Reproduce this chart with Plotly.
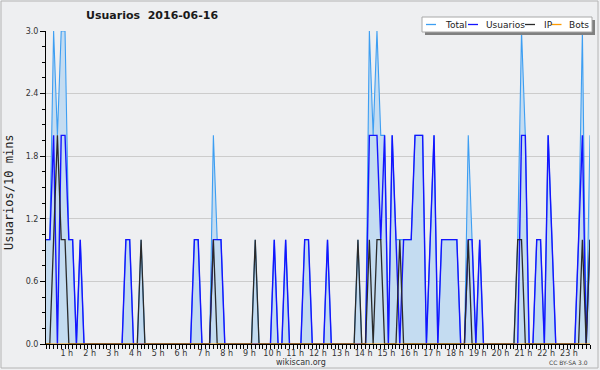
import plotly.graph_objects as go

# ---------------- data (10-minute slots, 144 per day) ----------------
slots = list(range(144))

usuarios = [0] * 144
ip = [0] * 144
bots = [0] * 144

usuarios_vals = {0: 1, 1: 1, 2: 2, 4: 2, 5: 2, 6: 1, 7: 1, 9: 1, 21: 1, 22: 1,
                 39: 1, 40: 1, 44: 1, 45: 1, 46: 1, 60: 1, 63: 1, 68: 1, 69: 1, 74: 1,
                 85: 2, 86: 2, 87: 2, 88: 1, 89: 2, 91: 2, 92: 1, 94: 1, 95: 1, 96: 1,
                 97: 2, 98: 2, 99: 2, 101: 1, 102: 2, 104: 1, 105: 1, 106: 1, 107: 1,
                 108: 1, 111: 1, 112: 1, 114: 1, 125: 2, 126: 2, 129: 1, 130: 1,
                 132: 2, 133: 1, 140: 1, 141: 2, 143: 1}
ip_vals = {2: 1, 3: 2, 4: 1, 5: 1, 25: 1, 44: 1, 55: 1, 82: 1, 85: 1, 87: 1, 88: 1,
           93: 1, 111: 1, 124: 1, 125: 1, 141: 1, 143: 1}
for k, v in usuarios_vals.items():
    usuarios[k] = v
for k, v in ip_vals.items():
    ip[k] = v
total = [u + i + b for u, i, b in zip(usuarios, ip, bots)]

hour_ticks = [6 * h for h in range(1, 24)]
hour_labels = [f"{h} h" for h in range(1, 24)]

title_text = "Usuarios  2016-06-16"
y_title = "Usuarios/10 mins"
series_names = ["Total", "Usuarios", "IP", "Bots"]
series_colors = {"Total": "#3D9EF2", "Usuarios": "#1414FF", "IP": "#2A2A2A", "Bots": "#FF9A00"}
fill_color = "#C4DCF1"

BG = "#EEEFF1"
FONT = "DejaVu Sans"

# ---------------- figure ----------------
fig = go.Figure()
fig.add_trace(go.Scatter(x=slots, y=total, name="Total", mode="lines", fill="tozeroy",
                         fillcolor=fill_color,
                         line=dict(color=series_colors["Total"], width=1.1)))
fig.add_trace(go.Scatter(x=slots, y=usuarios, name="Usuarios", mode="lines",
                         line=dict(color=series_colors["Usuarios"], width=1.4)))
fig.add_trace(go.Scatter(x=slots, y=ip, name="IP", mode="lines",
                         line=dict(color=series_colors["IP"], width=1.3)))
fig.add_trace(go.Scatter(x=slots, y=bots, name="Bots", mode="lines",
                         line=dict(color=series_colors["Bots"], width=1.2)))

L, R, T, B = 46, 10, 31, 26
W, H = 600, 370
pw, ph = W - L - R, H - T - B


def px(x):
    return (x - L) / pw


def py(y):
    return (H - B - y) / ph


shapes = []
annotations = []

# outer frame
shapes.append(dict(type="rect", xref="paper", yref="paper", x0=px(1), x1=px(598),
                   y0=py(1), y1=py(368), line=dict(color="#B4B4B4", width=1),
                   layer="below"))

# legend box with shadow
lx0, lx1, ly0, ly1 = 422, 592, 17, 32
shapes.append(dict(type="rect", xref="paper", yref="paper", x0=px(lx0 + 3), x1=px(lx1 + 3),
                   y0=py(ly0 + 3), y1=py(ly1 + 3), line=dict(width=0), fillcolor="#808080"))
shapes.append(dict(type="rect", xref="paper", yref="paper", x0=px(lx0), x1=px(lx1),
                   y0=py(ly0), y1=py(ly1), line=dict(color="#A8A8A8", width=1),
                   fillcolor="white"))
legend_pos = [(426, 442.5), (468, 483.5), (525, 541.5), (551.5, 566.5)]
for name, (lxs, txs) in zip(series_names, legend_pos):
    shapes.append(dict(type="line", xref="paper", yref="paper", x0=px(lxs), x1=px(lxs + 10),
                       y0=py(24.5), y1=py(24.5),
                       line=dict(color=series_colors[name], width=1.3)))
    annotations.append(dict(text=name, xref="paper", yref="paper", x=px(txs), y=py(24.5),
                            xanchor="left", yanchor="middle", showarrow=False,
                            font=dict(family=FONT, size=9, color="#222222")))

# title
annotations.append(dict(text=f"<b>{title_text}</b>", xref="paper", yref="paper",
                        x=px(84), y=py(16), xanchor="left", yanchor="middle",
                        showarrow=False, font=dict(family=FONT, size=11, color="#1A1A1A")))
# y title
annotations.append(dict(text=y_title, xref="paper", yref="paper", x=px(9), y=py(192),
                        xanchor="center", yanchor="middle", textangle=-90, showarrow=False,
                        font=dict(family="DejaVu Sans Mono", size=12, color="#222222")))
# footer
annotations.append(dict(text="wikiscan.org", xref="paper", yref="paper", x=px(301), y=py(362),
                        xanchor="center", yanchor="middle", showarrow=False,
                        font=dict(family=FONT, size=8, color="#333333")))
annotations.append(dict(text="CC BY-SA 3.0", xref="paper", yref="paper", x=px(590), y=py(362.5),
                        xanchor="right", yanchor="middle", showarrow=False,
                        font=dict(family=FONT, size=6, color="#444444")))

fig.update_layout(
    width=W, height=H,
    margin=dict(l=L, r=R, t=T, b=B, pad=0),
    paper_bgcolor=BG, plot_bgcolor=BG,
    showlegend=False,
    shapes=shapes, annotations=annotations,
    font=dict(family=FONT, size=8, color="#333333"),
    xaxis=dict(range=[0, 143], tickmode="array", tickvals=hour_ticks, ticktext=hour_labels,
               showgrid=False, zeroline=False, showline=True, linecolor="black", linewidth=1,
               ticks="outside", ticklen=4, tickcolor="black", tickwidth=1,
               ticklabelstandoff=-3, ticklabelshift=-2,
               tickfont=dict(family=FONT, size=8, color="#333333"),
               minor=dict(dtick=1, tick0=0, ticks="outside", ticklen=4, tickcolor="black",
                          showgrid=False),
               fixedrange=True),
    yaxis=dict(range=[0, 3], dtick=0.6, tick0=0, tickformat=".1f",
               showgrid=True, gridcolor="#CCCCCC", gridwidth=1,
               zeroline=False, showline=True, linecolor="black", linewidth=1,
               ticks="outside", ticklen=5, tickcolor="black", tickwidth=1,
               tickfont=dict(family=FONT, size=8, color="#333333"),
               minor=dict(dtick=0.15, ticks="outside", ticklen=3, tickcolor="black",
                          showgrid=False),
               fixedrange=True),
)

fig.write_html("out.html", config={"displayModeBar": False},
               post_script="document.body.style.margin='0px';document.body.style.overflow='hidden';")
